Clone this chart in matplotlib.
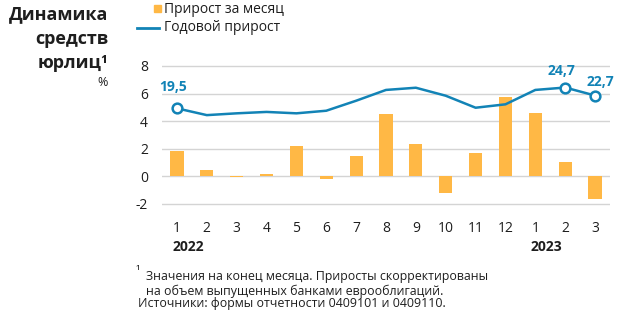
import matplotlib
matplotlib.use("Agg")
import matplotlib.pyplot as plt
from matplotlib.lines import Line2D
from matplotlib.patches import Rectangle
import matplotlib.transforms as mtransforms
import numpy as np

plt.rcParams['font.family'] = ['Open Sans', 'DejaVu Sans']

# Monthly data, Jan 2022 - Mar 2023
months = ['1', '2', '3', '4', '5', '6', '7', '8', '9', '10', '11', '12', '1', '2', '3']
year_labels = {0: '2022', 12: '2023'}
monthly_growth = [1.8, 0.43, -0.05, 0.17, 2.22, -0.17, 1.47, 4.51, 2.34, -1.21, 1.67, 5.76, 4.59, 1.06, -1.65]
annual_growth = [19.5, 17.8, 18.25, 18.6, 18.25, 18.9, 21.4, 24.1, 24.65, 22.65, 19.65, 20.5, 24.1, 24.7, 22.7]
labelled_points = [0, 13, 14]
yticks = [-2, 0, 2, 4, 6, 8]

ORANGE = '#FFB845'
BLUE = '#1283B6'
GRID = '#D4D4D4'
TEXT = '#1E1E1E'

fig = plt.figure(figsize=(6.24, 3.28), dpi=100)
ax = fig.add_axes([162 / 624, 1 - 210.8 / 328, 448 / 624, (210.8 - 61.8) / 328])

x = np.arange(len(months))
ax.bar(x, monthly_growth, width=0.44, color=ORANGE, zorder=2)

ax.set_xlim(-0.5, len(months) - 0.5)
ax.set_ylim(-2.5, 8.3)
ax.set_yticks(yticks)
ax.set_yticklabels([str(t) for t in yticks])
ax.set_xticks(x)
ax.set_xticklabels(months)
ax.grid(axis='y', color=GRID, linewidth=1.0, zorder=0)
ax.set_axisbelow(True)
for s in ax.spines.values():
    s.set_visible(False)
ax.tick_params(axis='both', length=0, labelsize=10, colors=TEXT)
ax.tick_params(axis='y', pad=10)
ax.tick_params(axis='x', pad=7)

# Annual growth on a hidden secondary scale
ax2 = ax.twinx()
lo, hi = ax.get_ylim()
ax2.set_ylim(2.5 + 3.45 * lo, 2.5 + 3.45 * hi)
ax2.axis('off')
ax2.plot(x, annual_growth, color=BLUE, linewidth=1.8, zorder=3, solid_joinstyle='round')
ax2.plot(x[labelled_points], [annual_growth[i] for i in labelled_points], 'o',
         markersize=7, markerfacecolor='white', markeredgecolor=BLUE,
         markeredgewidth=1.8, zorder=4)
offsets = {0: (-3, 10), 13: (-3, 7), 14: (4, 5)}
for i in labelled_points:
    ax2.annotate(f"{annual_growth[i]:.1f}".replace('.', ','), (x[i], annual_growth[i]),
                 xytext=offsets[i], textcoords='offset points', ha='center', va='bottom',
                 fontsize=10, fontweight='bold', color=BLUE)

# Year labels under the month ticks
trans = mtransforms.blended_transform_factory(ax.transData, fig.transFigure)
for i, yr in year_labels.items():
    ax.text(x[i] - 0.15, 1 - 247 / 328, yr, transform=trans, ha='left', va='center',
            fontsize=10, fontweight='bold', color=TEXT)

# Title block
for txt, yb in [('Динамика', 19), ('средств', 43.5), ('юрлиц¹', 68.5)]:
    fig.text(108 / 624, 1 - yb / 328, txt, ha='right', va='baseline',
             fontsize=13, fontweight='bold', color=TEXT)
fig.text(108 / 624, 1 - 83 / 328, '%', ha='right', va='center', fontsize=9, color=TEXT)

# Legend
fig.patches.append(Rectangle((154 / 624, 1 - 12.3 / 328), 7 / 624, 7.3 / 328,
                             transform=fig.transFigure, color=ORANGE))
fig.lines.append(Line2D([137 / 624, 159 / 624], [1 - 28.3 / 328, 1 - 28.3 / 328],
                        transform=fig.transFigure, color=BLUE, linewidth=2))
fig.text(164 / 624, 1 - 9.5 / 328, 'Прирост за месяц', ha='left', va='center',
         fontsize=10, color=TEXT)
fig.text(164 / 624, 1 - 27.5 / 328, 'Годовой прирост', ha='left', va='center',
         fontsize=10, color=TEXT)

# Notes
fig.text(136 / 624, 1 - 272 / 328, '¹', ha='left', va='center', fontsize=8.9, color=TEXT)
fig.text(146 / 624, 1 - 276.5 / 328, 'Значения на конец месяца. Приросты скорректированы',
         ha='left', va='center', fontsize=8.9, color=TEXT)
fig.text(146 / 624, 1 - 291 / 328, 'на объем выпущенных банками еврооблигаций.',
         ha='left', va='center', fontsize=8.9, color=TEXT)
fig.text(137.5 / 624, 1 - 304 / 328, 'Источники: формы отчетности 0409101 и 0409110.',
         ha='left', va='center', fontsize=8.9, color=TEXT)

fig.savefig('out.png', dpi=100, facecolor='white')
